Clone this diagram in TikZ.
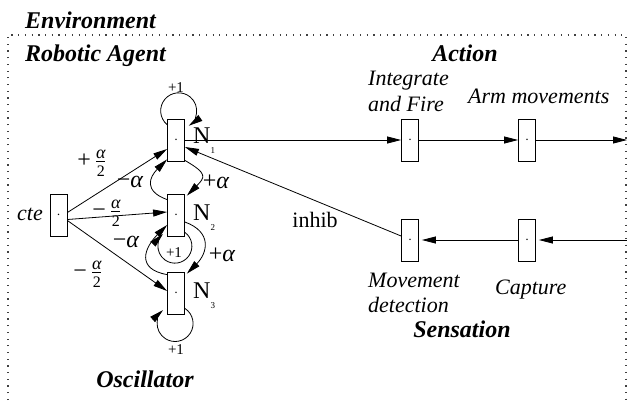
\documentclass[tikz,border=0pt]{standalone}
\usepackage{fontspec}
\setmainfont{Liberation Serif}
\usepackage{amsmath}
\usetikzlibrary{arrows.meta}
% italic alpha taken from the text font so that it scales freely
\newcommand\alp{{\itshape α}}
% weight fraction alpha over 2
\newcommand\wfrac{$\genfrac{}{}{0.9pt}{1}{\hbox{\fontsize{18}{18}\selectfont\alp}}{\hbox{\fontsize{16}{16}\selectfont 2}}$}
\begin{document}
\begin{tikzpicture}[x=1pt,y=1pt,
  unit/.style={draw, fill=white, line width=0.8pt, minimum width=17pt,
    minimum height=42pt, inner sep=0pt, font=\fontsize{14}{14}\selectfont},
  conn/.style={line width=0.8pt, -{Triangle[length=14pt,width=7pt]}},
  lbl/.style={font=\fontsize{22}{26}\selectfont\itshape, inner sep=0pt},
  rlbl/.style={font=\fontsize{22}{26}\selectfont, inner sep=0pt},
  nlbl/.style={font=\fontsize{24}{26}\selectfont, inner sep=0pt},
  head/.style={font=\fontsize{24}{28}\selectfont\bfseries\itshape, inner sep=0pt},
  weight/.style={font=\fontsize{24}{26}\selectfont, inner sep=0pt},
  small/.style={font=\fontsize{15}{15}\selectfont, inner sep=0pt},
  frame/.style={line width=1.2pt, black!75, dash pattern=on 1.2pt off 5.5pt}]
\useasboundingbox (0,0) rectangle (627,-400);

% environment / agent frame
\draw[frame] (8,-400) -- (8,-35) -- (626,-35) -- (626,-400);

% headings
\node[head, anchor=base west] (envt) at (25,-28) {Environment};
\node[head, anchor=base west] (agent) at (25,-61) {Robotic Agent};
\node[head, anchor=base] (action) at (465,-61) {Action};
\node[head, anchor=base] (sens) at (462,-337) {Sensation};
\node[head, anchor=base] (osc) at (145,-387) {Oscillator};

% units
\node[unit] (cte) at (58.5,-215.5) {$\cdot$};
\node[unit] (n1) at (176,-140) {$\cdot$};
\node[unit] (n2) at (176,-215) {$\cdot$};
\node[unit] (n3) at (176,-293) {$\cdot$};
\node[unit] (iaf) at (410,-140) {$\cdot$};
\node[unit] (arm) at (527,-140) {$\cdot$};
\node[unit] (mov) at (410,-240) {$\cdot$};
\node[unit] (cap) at (527,-240) {$\cdot$};
\coordinate (armout) at (627,-140);
\coordinate (capin) at (627,-240);

% unit labels
\node[lbl, anchor=base west] (ctelab) at (17,-220) {cte};
\node[nlbl, anchor=base west] (n1lab) at (193,-143) {N\raisebox{-10pt}{\fontsize{9}{9}\selectfont 1}};
\node[nlbl, anchor=base west] (n2lab) at (193,-220) {N\raisebox{-10pt}{\fontsize{9}{9}\selectfont 2}};
\node[nlbl, anchor=base west] (n3lab) at (193,-298) {N\raisebox{-10pt}{\fontsize{9}{9}\selectfont 3}};
\node[lbl, anchor=base west] (iaflab) at (368,-85) {Integrate};
\node[lbl, anchor=base west] (iaflabb) at (368,-111) {and Fire};
\node[lbl, anchor=base west] (armlab) at (468,-103) {Arm movements};
\node[lbl, anchor=base west] (movlab) at (368,-287) {Movement};
\node[lbl, anchor=base west] (movlabb) at (368,-312) {detection};
\node[lbl, anchor=base west] (caplab) at (495,-294) {Capture};

% action and sensation chains
\draw[conn] (n1.east) -- (iaf.west);
\draw[conn] (iaf.east) -- (arm.west);
\draw[conn] (arm.east) -- (armout);
\draw[conn, shorten >=3pt] (capin) -- (cap.east);
\draw[conn, shorten >=3pt] (cap.west) -- (mov.east);
\draw[conn] ([yshift=4pt]mov.west) -- ([yshift=-7pt]n1.east);
\node[rlbl, anchor=base] (inhib) at (315,-227) {inhib};

% constant input
\draw[conn] ([yshift=3pt]cte.east) -- ([yshift=-9pt]n1.west);
\draw[conn] ([yshift=-4pt]cte.east) -- ([yshift=3pt]n2.west);
\draw[conn] ([yshift=-5pt]cte.east) -- ([yshift=2pt]n3.west);
\node[weight] (w1) at (92,-163) {+\,\wfrac};
\node[weight] (w2) at (107,-213) {−\,\wfrac};
\node[weight] (w3) at (88,-274) {−\,\wfrac};

% self connections
\draw[conn] ([yshift=-6pt]n1.north west) arc[start angle=230, end angle=-56, radius=18];
\draw[conn] ([yshift=4pt]n2.south east) arc[start angle=54, end angle=-225, radius=17];
\draw[conn] ([yshift=6pt]n3.south east) arc[start angle=57, end angle=-228, radius=18];
\node[small] (s1) at (176,-88) {+1};
\node[small] (s2) at (174,-253) {+1};
\node[small] (s3) at (176,-350) {+1};

% mutual connections
\draw[conn] ([yshift=-6pt]n2.north west) to[out=160, in=-135, looseness=1.6] ([yshift=2pt]n1.south west);
\draw[conn] ([yshift=1pt]n1.south east) to[out=-30, in=45, looseness=1.9] ([xshift=2pt,yshift=-2pt]n2.north east);
\draw[conn] ([yshift=-3pt]n3.north west) to[out=170, in=-135, looseness=1.65] ([yshift=-10pt]n2.west);
\draw[conn] ([yshift=-7pt]n2.east) to[out=-20, in=45, looseness=1.45] ([xshift=2pt,yshift=-2pt]n3.north east);
\node[weight] (m1) at (130,-182) {−\alp};
\node[weight] (p1) at (216,-182) {+\alp};
\node[weight] (m2) at (126,-242) {−\alp};
\node[weight] (p2) at (222,-255) {+\alp};
\end{tikzpicture}
\end{document}
